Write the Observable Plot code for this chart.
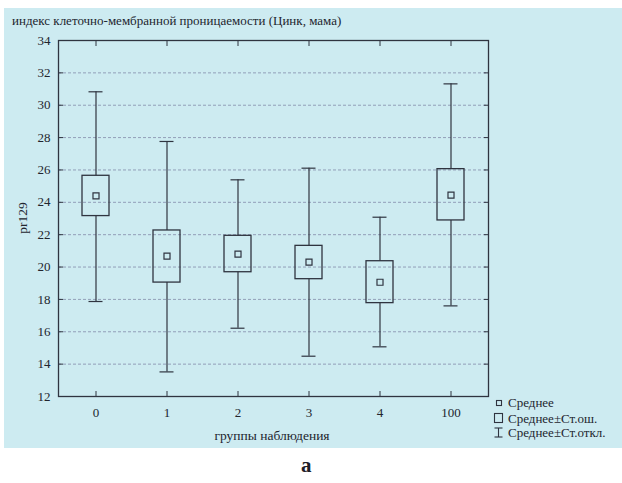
<!DOCTYPE html>
<html>
<head>
<meta charset="utf-8">
<script src="https://cdn.jsdelivr.net/npm/d3@7"></script>
<script src="https://cdn.jsdelivr.net/npm/@observablehq/plot@0.6"></script>
<style>
  body { margin: 0; background: #ffffff; width: 622px; height: 483px; position: relative; overflow: hidden; font-family: "Liberation Serif", serif; }
  #bg { position: absolute; left: 4px; top: 8px; width: 618px; height: 440px; background: #cdebf1; }
  #chart { position: absolute; left: 0; top: 0; }
  #title { position: absolute; left: 12px; top: 13px; font-size: 13px; color: #22252e; white-space: nowrap; font-family: "Liberation Serif", serif; }
  #letter { position: absolute; left: 301px; top: 453px; font-size: 21px; font-weight: bold; color: #1e2028; }
</style>
</head>
<body>
<div id="bg"></div>
<div id="chart"></div>
<div id="title">индекс клеточно-мембранной проницаемости (Цинк, мама)</div>
<div id="letter">а</div>
<script>
const groups = ["0", "1", "2", "3", "4", "100"];
const means  = [24.40, 20.67, 20.80, 20.30, 19.06, 24.44];
const seLow  = [23.15, 19.04, 19.68, 19.25, 17.77, 22.88];
const seHigh = [25.64, 22.26, 21.93, 21.31, 20.36, 26.05];
const sdLow  = [17.87, 13.52, 16.22, 14.49, 15.07, 17.60];
const sdHigh = [30.83, 27.76, 25.39, 26.11, 23.08, 31.32];
const yTicks = [12, 14, 16, 18, 20, 22, 24, 26, 28, 30, 32, 34];
const gridTicks = [14, 16, 18, 20, 22, 24, 26, 28, 30, 32];
const legendLabels = ["Среднее", "Среднее±Ст.ош.", "Среднее±Ст.откл."];

const data = groups.map((g, i) => ({
  g, mean: means[i], seLow: seLow[i], seHigh: seHigh[i], sdLow: sdLow[i], sdHigh: sdHigh[i]
}));

const ink = "#2f3440";
const plot = Plot.plot({
  width: 622,
  height: 483,
  marginLeft: 58,
  marginRight: 134,
  marginTop: 40,
  marginBottom: 87,
  style: { background: "transparent", fontFamily: "Liberation Serif, serif", color: "#22252e" },
  x: { type: "band", domain: groups, padding: 0 },
  y: { domain: [12, 34] },
  marks: [
    Plot.gridY(gridTicks, { stroke: "#7f86a6", strokeOpacity: 0.75, strokeDasharray: "3,2" }),
    Plot.frame({ stroke: ink, strokeWidth: 1.3 }),
    Plot.axisY(yTicks, { anchor: "left", tickSize: -5, tickPadding: 13, fontSize: 13, stroke: ink, label: null }),
    Plot.axisY(yTicks, { anchor: "right", tickSize: -5, tickFormat: () => "", label: null, stroke: ink }),
    Plot.axisX({ anchor: "bottom", tickSize: -5, tickPadding: 16, fontSize: 13, stroke: ink, label: null }),
    Plot.axisX({ anchor: "top", tickSize: -5, tickFormat: () => "", label: null, stroke: ink }),
    Plot.ruleX(data, { x: "g", y1: "sdLow", y2: "seLow", stroke: ink, strokeWidth: 1.2 }),
    Plot.ruleX(data, { x: "g", y1: "seHigh", y2: "sdHigh", stroke: ink, strokeWidth: 1.2 }),
    Plot.tickY(data, { x: "g", y: "sdLow", inset: 28.5, stroke: ink, strokeWidth: 1.2 }),
    Plot.tickY(data, { x: "g", y: "sdHigh", inset: 28.5, stroke: ink, strokeWidth: 1.2 }),
    Plot.rect(data, { x: "g", y1: "seLow", y2: "seHigh", insetLeft: 22, insetRight: 22, fill: "none", stroke: ink, strokeWidth: 1.3 }),
    Plot.dot(data, { x: "g", y: "mean", symbol: "square", r: 3.4, stroke: ink, strokeWidth: 1.2, fill: "none" })
  ]
});

const svg = d3.select(plot);
// axis titles
svg.append("text").attr("transform", "translate(27,218) rotate(-90)").attr("text-anchor", "middle")
  .attr("font-size", 13.5).attr("fill", "#22252e").attr("font-family", "Liberation Serif, serif").text("pr129");
svg.append("text").attr("x", 272).attr("y", 440).attr("text-anchor", "middle")
  .attr("font-size", 13.5).attr("fill", "#22252e").attr("font-family", "Liberation Serif, serif").text("группы наблюдения");

// legend
const lg = svg.append("g").attr("stroke", ink).attr("fill", "none").attr("stroke-width", 1.1);
lg.append("rect").attr("x", 496.5).attr("y", 400.5).attr("width", 5).attr("height", 5);
lg.append("rect").attr("x", 494.5).attr("y", 413.5).attr("width", 8).attr("height", 9);
lg.append("line").attr("x1", 498.5).attr("x2", 498.5).attr("y1", 428).attr("y2", 437);
lg.append("line").attr("x1", 494.5).attr("x2", 502.5).attr("y1", 428).attr("y2", 428);
lg.append("line").attr("x1", 494.5).attr("x2", 502.5).attr("y1", 437).attr("y2", 437);
const lt = svg.append("g").attr("fill", "#22252e").attr("font-size", 13).attr("text-anchor", "start")
  .attr("font-family", "Liberation Serif, serif");
legendLabels.forEach((t, i) => {
  lt.append("text").attr("x", 508).attr("y", [407, 423, 437][i]).text(t);
});

document.getElementById("chart").appendChild(plot);
</script>
</body>
</html>
